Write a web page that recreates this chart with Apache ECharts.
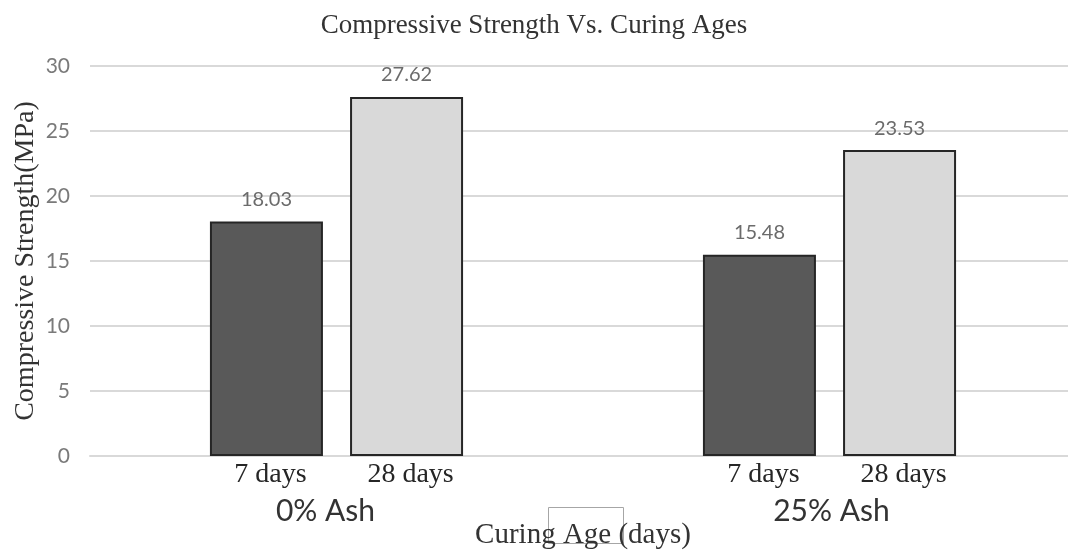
<!DOCTYPE html>
<html>
<head>
<meta charset="utf-8">
<title>Compressive Strength Vs. Curing Ages</title>
<script src="https://cdn.jsdelivr.net/npm/echarts@6/dist/echarts.min.js"></script>
<style>
  html, body { margin: 0; padding: 0; background: #fff; }
  #chart { width: 1068px; height: 551px; }
</style>
</head>
<body>
<div id="chart"></div>
<script>
// Mix groups along the x axis
const mixes = ['0% Ash', '25% Ash'];
// Curing ages (one bar series each)
const ages = ['7 days', '28 days'];
// Compressive strength in MPa, per age, per mix
const strength7 = [18.03, 15.48];
const strength28 = [27.62, 23.53];
// Y axis range
const yMin = 0, yMax = 30, yStep = 5;

const serif = '"Liberation Serif", "DejaVu Serif", serif';
const sans = 'Lato, "Open Sans", sans-serif';

const seriesData = [strength7, strength28];
const fills = ['#595959', '#d9d9d9'];

const barCommon = {
  type: 'bar',
  barWidth: 113,
  barGap: '24%',
  silent: true
};

// Visible bars with value labels on top
const valueBars = ages.map((age, i) => Object.assign({}, barCommon, {
  name: age,
  xAxisIndex: 0,
  data: seriesData[i],
  itemStyle: { color: fills[i], borderColor: '#262626', borderWidth: 2 },
  label: {
    show: true,
    position: 'top',
    distance: 12,
    fontFamily: sans,
    fontSize: 20,
    color: '#6b6b6b',
    formatter: p => p.value.toFixed(2)
  }
}));

// Transparent twins on a hidden axis, carrying the age label under each bar
const ageBars = ages.map((age, i) => Object.assign({}, barCommon, {
  name: age,
  xAxisIndex: 1,
  data: seriesData[i],
  itemStyle: { color: 'rgba(0,0,0,0)', borderWidth: 0 },
  label: {
    show: true,
    position: 'bottom',
    distance: 5,
    offset: [4, 0],
    fontFamily: serif,
    fontSize: 28,
    color: '#262626',
    formatter: p => p.seriesName
  }
}));

const chart = echarts.init(document.getElementById('chart'), null, { renderer: 'canvas' });
chart.setOption({
  animation: false,
  backgroundColor: '#ffffff',
  title: {
    text: 'Compressive Strength Vs. Curing Ages',
    left: 'center',
    top: 7,
    textStyle: { fontFamily: serif, fontSize: 27, fontWeight: 'normal', color: '#333333' }
  },
  grid: { left: 90, width: 986, top: 66, bottom: 95, containLabel: false, outerBoundsMode: 'none' },
  xAxis: [
    {
      type: 'category',
      data: mixes,
      position: 'bottom',
      axisLine: { show: true, lineStyle: { color: '#d9d9d9', width: 2 } },
      axisTick: { show: false },
      axisLabel: {
        margin: 40,
        fontFamily: sans,
        fontSize: 30,
        color: '#333333',
        verticalAlign: 'top',
        // first group label sits a little left of its group centre
        formatter: (v, i) => i === 0 ? '{l|' + v + '}' : '{r|' + v + '}',
        rich: {
          l: { fontFamily: sans, fontSize: 30, color: '#333333', padding: [0, 22, 0, 0] },
          r: { fontFamily: sans, fontSize: 30, color: '#333333', padding: [0, 0, 0, 4] }
        }
      },
      name: 'Curing Age (days)',
      nameLocation: 'middle',
      nameGap: 65,
      nameMoveOverlap: false,
      nameTextStyle: { fontFamily: serif, fontSize: 29, color: '#333333', verticalAlign: 'top' }
    },
    {
      type: 'category',
      data: mixes,
      position: 'bottom',
      show: false
    }
  ],
  yAxis: {
    type: 'value',
    min: yMin,
    max: yMax,
    interval: yStep,
    axisLine: { show: false },
    axisTick: { show: false },
    splitLine: { lineStyle: { color: '#d9d9d9', width: 2 } },
    axisLabel: { margin: 20, fontFamily: sans, fontSize: 21, color: '#7a7a7a' },
    name: 'Compressive Strength(MPa)',
    nameLocation: 'middle',
    nameGap: 50,
    nameMoveOverlap: false,
    nameTextStyle: { fontFamily: serif, fontSize: 28, color: '#333333' }
  },
  series: valueBars.concat(ageBars),
  graphic: [
    {
      type: 'rect',
      shape: { x: 548.5, y: 507.5, width: 75, height: 36 },
      style: { fill: 'none', stroke: '#a6a6a6', lineWidth: 1 },
      silent: true
    }
  ]
});
</script>
</body>
</html>
